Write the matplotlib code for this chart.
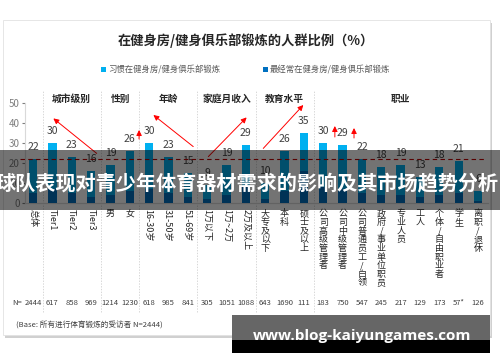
import numpy as np
import matplotlib.pyplot as plt
from matplotlib.patches import Rectangle

plt.rcParams['font.family'] = ['Noto Sans CJK SC', 'DejaVu Sans']

# === data ===
categories = ['总体', 'Tier1', 'Tier2', 'Tier3', '男', '女', '16-30岁', '31-50岁', '51-69岁',
              '1万以下', '1万~2万', '2万及以上', '大专及以下', '本科', '硕士及以上',
              '公司高级管理者', '公司中级管理者', '公司普通员工/白领', '政府/事业单位职员',
              '专业人员', '工人', '个体/自由职业者', '学生', '离职/退休']
habit = [22, 30, 23, 16, 19, 26, 30, 23, 15, 9, 19, 29, 10, 26, 35, 30, 29, 22, 18, 19, 13, 18, 21, 6]
most = [5, 7, 5, 3, 4, 6, 7, 5, 3, 2, 4, 8, 2, 6, 16, 8, 7, 5, 4, 4, 3, 4, 5, 1]
sample_n = ['2444', '617', '858', '969', '1214', '1230', '618', '985', '841', '305', '1051', '1088',
            '643', '1690', '111', '183', '750', '547', '245', '217', '129', '173', '57*', '126']
groups = ['城市级别', '性别', '年龄', '家庭月收入', '教育水平', '职业']
group_sizes = [3, 2, 3, 3, 3, 9]
legend_labels = ['习惯在健身房/健身俱乐部锻炼', '最经常在健身房/健身俱乐部锻炼']

W, H = 500, 362
def px(x, y):
    return x / W, 1 - y / H

fig = plt.figure(figsize=(5, 3.62), dpi=100, facecolor='white')

# card with shadow
fig.add_artist(Rectangle(px(5, 338), 487 / W, 315 / H, transform=fig.transFigure,
                         facecolor='#d0d0d0', edgecolor='none', zorder=-3))
fig.add_artist(Rectangle(px(3, 335), 487 / W, 315 / H, transform=fig.transFigure,
                         facecolor='white', edgecolor='#e2e2e2', lw=0.6, zorder=-2))

ax = fig.add_axes([25.3 / W, 159 / H, 462.4 / W, 100 / H])
ax.set_facecolor('none')
x = np.arange(len(categories))
light, dark = '#00B0F0', '#0070C0'
ax.bar(x, habit, width=0.43, color=light, zorder=2)
ax.bar(x, most, width=0.43, color=dark, zorder=3)
ax.set_xlim(-0.4, 23.5)
ax.set_ylim(0, 50)
ax.set_yticks(range(0, 51, 10))
ax.tick_params(axis='y', labelsize=7, colors='#7f7f7f', length=2, pad=2)
ax.set_xticks([])
for s in ['top', 'right']:
    ax.spines[s].set_visible(False)
ax.spines['left'].set_color('#d9d9d9')
ax.spines['bottom'].set_color('#d9d9d9')

# value labels
for xi, v in zip(x, habit):
    ax.annotate(str(v), (xi, v), xytext=(0, 9), textcoords='offset points',
                ha='center', va='center', fontsize=7.5, color='#404040', annotation_clip=False)

# average line
ax.plot([-0.67, 23.36], [habit[0], habit[0]], ls=(0, (4, 3)), color='#C00000', lw=0.8,
        clip_on=False, zorder=4)

# group separators and headers
pos = 0.5
start = 1
for g, n in zip(groups, group_sizes):
    ax.plot([pos, pos], [-54.5, 56], ls=(0, (2, 2)), color='#c8c8c8', lw=0.5, clip_on=False)
    ax.text(start + (n - 1) / 2, 52, g, ha='center', va='center', fontsize=7,
            fontweight='bold', color='#262626')
    pos += n
    start += n

# category labels
stacked = [False] * 4 + [True, True] + [False] * 6 + [True] * 12
for xi, lab, st in zip(x, categories, stacked):
    if st:
        ax.text(xi, -3.2, '\n'.join(lab), ha='center', va='top', fontsize=6.5,
                linespacing=0.95, color='#262626')
    else:
        ax.text(xi, -3.2, lab, ha='center', va='top', rotation=-90, fontsize=6.5,
                color='#262626')

# sample sizes
for xi, n in zip(x, sample_n):
    ax.text(xi, -50, n, ha='center', va='center', fontsize=5.5, style='italic', color='#404040')
ax.text(-0.55, -50, 'N=', ha='right', va='center', fontsize=5.5, style='italic', color='#404040')

# red trend arrows
arrows = [((3.29, 24.8), (1.05, 42.3)), ((8.28, 28.2), (6.22, 44)),
          ((9.06, 23.2), (11.04, 42.8)), ((11.9, 27.3), (13.97, 49)),
          ((5.48, 32), (5.48, 36.5)), ((15.6, 33), (15.6, 38.5)), ((16.59, 32.5), (16.59, 37.5))]
for (x0, y0), (x1, y1) in arrows:
    ax.annotate('', xy=(x1, y1), xytext=(x0, y0), annotation_clip=False,
                arrowprops=dict(arrowstyle='-|>', color='red', lw=0.7,
                                mutation_scale=8, shrinkA=0, shrinkB=0))

# title and legend
fig.text(*px(246, 41), '在健身房/健身俱乐部锻炼的人群比例（%）', ha='center', va='center',
         fontsize=9.5, fontweight='bold', color='#262626')
for (lx, col, lab) in [(103, light, legend_labels[0]), (265, dark, legend_labels[1])]:
    fig.add_artist(Rectangle(px(lx - 2.5, 71.5), 5 / W, 5 / H, transform=fig.transFigure,
                             facecolor=col, edgecolor='none'))
    fig.text(*px(lx + 5, 69), lab, ha='left', va='center', fontsize=6, color='#595959')

fig.text(*px(16, 326), '(Base: 所有进行体育锻炼的受访者 N=2444)', ha='left', va='center',
         fontsize=5.5, style='italic', color='#404040')

# overlay band with headline
fig.add_artist(Rectangle(px(0, 210), 1, 60 / H, transform=fig.transFigure,
                         facecolor='black', alpha=0.55, edgecolor='none', zorder=10))
fig.text(*px(247, 183), '球队表现对青少年体育器材需求的影响及其市场趋势分析', ha='center', va='center',
         fontsize=14.5, fontweight='bold', color='white', zorder=11)

# site banner
fig.add_artist(Rectangle(px(232, 340), 258 / W, 25 / H, transform=fig.transFigure,
                         facecolor='#666666', edgecolor='none', zorder=10))
fig.add_artist(Rectangle(px(232, 353), 258 / W, 13 / H, transform=fig.transFigure,
                         facecolor='black', edgecolor='none', zorder=10))
fig.text(*px(362, 336), 'www.blog-kaiyungames.com', ha='center', va='center',
         fontsize=11, fontweight='bold', family=['Open Sans', 'DejaVu Sans'], color='white', zorder=11)

fig.savefig('out.png', dpi=100)
